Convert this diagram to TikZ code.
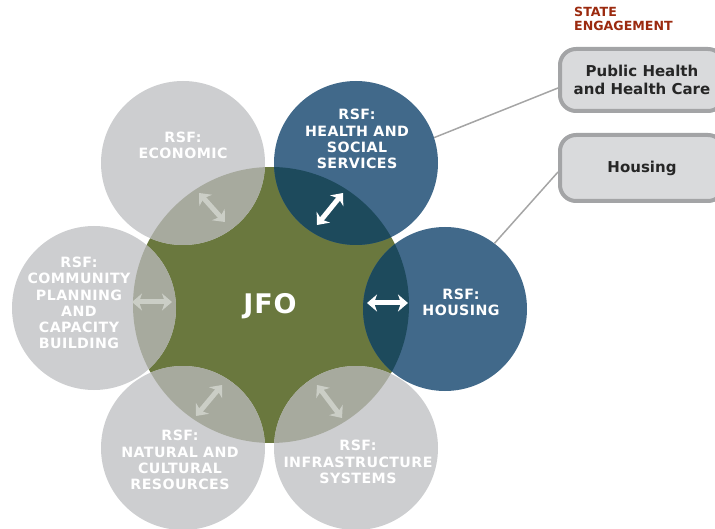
\documentclass[tikz,border=0pt]{standalone}
\usepackage{fontspec}
\setmainfont{DejaVu Sans}
\newfontfamily\widesans[LetterSpace=3]{DejaVu Sans}
\usetikzlibrary{arrows.meta}
\definecolor{jfo}{HTML}{6A783E}
\definecolor{rsfblue}{HTML}{41698A}
\definecolor{blueover}{HTML}{1D4A5C}
\definecolor{rsfgrey}{HTML}{CDCED0}
\definecolor{greyover}{HTML}{A7AA9E}
\definecolor{greyarrow}{HTML}{CBCEC6}
\definecolor{statered}{HTML}{9B2A0F}
\definecolor{boxfill}{HTML}{D9DADC}
\definecolor{boxline}{HTML}{A3A4A6}
\definecolor{conn}{HTML}{A5A5A5}
\tikzset{
 sat/.style={circle, minimum size=164pt, inner sep=0pt},
 lbl/.style={text=white, font=\widesans\fontsize{14.2}{16.3}\selectfont\bfseries, align=center, inner sep=0pt},
 dbl/.style={line width=5pt, {Stealth[length=10pt,width=17pt,inset=3pt]}-{Stealth[length=10pt,width=17pt,inset=3pt]}},
 sbox/.style={draw=boxline, line width=4pt, fill=boxfill, rounded corners=16pt, minimum width=164pt, inner sep=0pt, text=black!85, font=\fontsize{15}{18}\selectfont\bfseries, align=center}
}
\begin{document}
\begin{tikzpicture}[x=1pt,y=-1pt]
\useasboundingbox (0,0) rectangle (715,529);
\clip (0,0) rectangle (715,529);
% central circle
\node[circle, minimum size=276pt, inner sep=0pt, fill=jfo] (jfo) at (271,305) {};
% satellites
\node[sat, fill=rsfgrey] (eco) at (183,163) {};
\node[sat, fill=rsfblue] (hs) at (356,163) {};
\node[sat, fill=rsfblue] (hou) at (445,309) {};
\node[sat, fill=rsfgrey] (cp) at (94,308) {};
\node[sat, fill=rsfgrey] (nat) at (183,448) {};
\node[sat, fill=rsfgrey] (inf) at (356,448) {};
% overlaps
\begin{scope}
\clip (271,305) circle [radius=138pt];
\fill[greyover] (183,163) circle [radius=82pt];
\fill[blueover] (356,163) circle [radius=82pt];
\fill[blueover] (445,309) circle [radius=82pt];
\fill[greyover] (94,308) circle [radius=82pt];
\fill[greyover] (183,448) circle [radius=82pt];
\fill[greyover] (356,448) circle [radius=82pt];
\end{scope}
% labels
\node[text=white, font=\widesans\fontsize{27}{29}\selectfont\bfseries] (jfoT) at (270,306) {JFO};
\node[lbl] (ecoT) at (183,145) {RSF:\\ECONOMIC};
\node[lbl] (hsT) at (357,139) {RSF:\\HEALTH AND\\SOCIAL\\SERVICES};
\node[lbl] (houT) at (461,302) {RSF:\\HOUSING};
\node[lbl] (cpT) at (79,303) {RSF:\\COMMUNITY\\PLANNING\\AND\\CAPACITY\\BUILDING};
\node[lbl] (natT) at (180,460) {RSF:\\NATURAL AND\\CULTURAL\\RESOURCES};
\node[lbl] (infT) at (358,462) {RSF:\\INFRASTRUCTURE\\SYSTEMS};
% arrows
\coordinate (hsA) at (317,225); \coordinate (hsB) at (343,193);
\coordinate (houA) at (367,303); \coordinate (houB) at (408,303);
\coordinate (ecoA) at (199,193); \coordinate (ecoB) at (225,222);
\coordinate (cpA) at (132,302); \coordinate (cpB) at (172,302);
\coordinate (natA) at (196,416); \coordinate (natB) at (222,385);
\coordinate (infA) at (317,385); \coordinate (infB) at (342,418);
\draw[dbl, white] (hsA) -- (hsB);
\draw[dbl, white] (houA) -- (houB);
\draw[dbl, greyarrow] (ecoA) -- (ecoB);
\draw[dbl, greyarrow] (cpA) -- (cpB);
\draw[dbl, greyarrow] (natA) -- (natB);
\draw[dbl, greyarrow] (infA) -- (infB);
% state engagement
\node[anchor=north west, inner sep=0pt, text=statered, align=left, font=\fontsize{12.6}{14}\selectfont\bfseries] (state) at (574,7) {STATE\\ENGAGEMENT};
\node[sbox, minimum height=62pt] (b1) at (642,80) {Public Health\\and Health Care};
\node[sbox, minimum height=66pt] (b2) at (642,168) {Housing};
\draw[conn, line width=1.5pt] (hs.18) -- ([yshift=-8pt]b1.west);
\draw[conn, line width=1.5pt] (hou.53) -- ([yshift=-4pt]b2.west);
\end{tikzpicture}
\end{document}
